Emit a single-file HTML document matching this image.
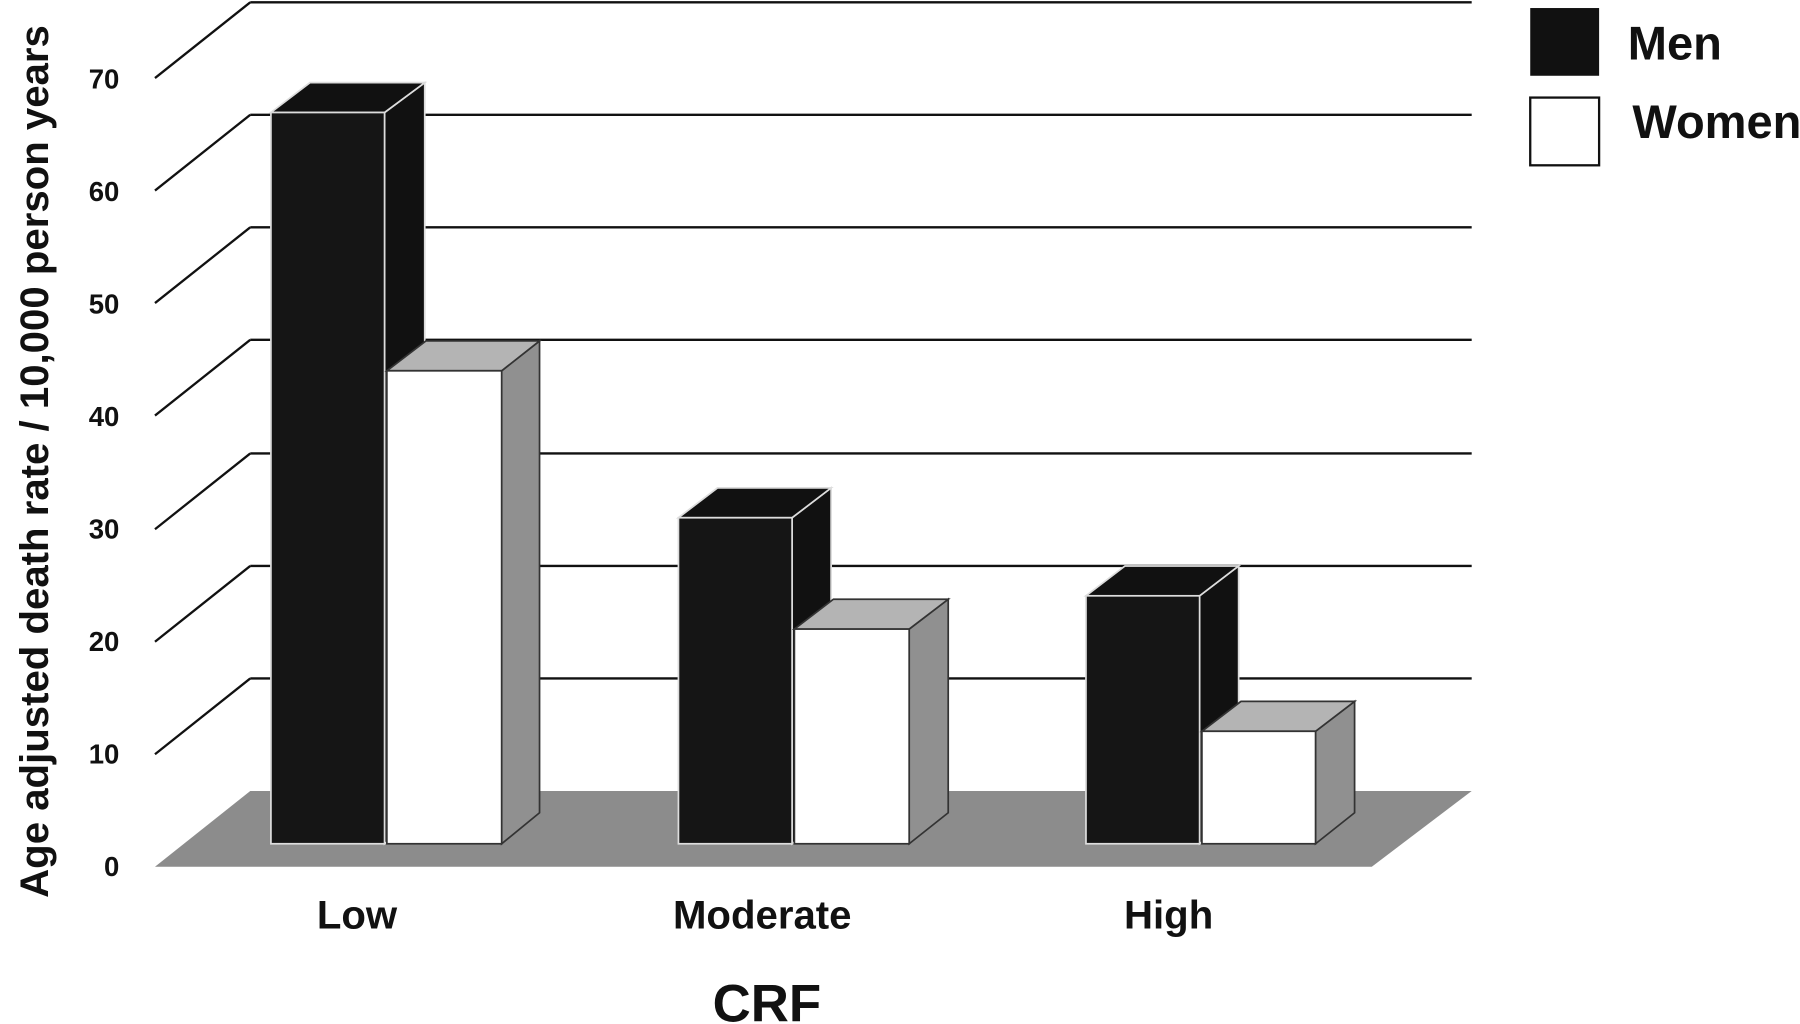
<!DOCTYPE html>
<html><head><style>html,body{margin:0;padding:0;background:#fff}svg{display:block}</style></head><body>
<svg width="1800" height="1024" viewBox="0 0 1568 892" preserveAspectRatio="none" xmlns="http://www.w3.org/2000/svg" font-family="Liberation Sans, sans-serif" font-weight="bold">
<rect width="1568" height="892" fill="#fff"/>
<polygon points="135,755 218,689 1282,689 1195,755" fill="#8c8c8c"/>
<g stroke="#111" stroke-width="2" fill="none">
<line x1="218" y1="2" x2="1282" y2="2"/><line x1="135" y1="68" x2="218" y2="2"/>
<line x1="218" y1="100" x2="1282" y2="100"/><line x1="135" y1="166" x2="218" y2="100"/>
<line x1="218" y1="198" x2="1282" y2="198"/><line x1="135" y1="264" x2="218" y2="198"/>
<line x1="218" y1="296" x2="1282" y2="296"/><line x1="135" y1="362" x2="218" y2="296"/>
<line x1="218" y1="395" x2="1282" y2="395"/><line x1="135" y1="461" x2="218" y2="395"/>
<line x1="218" y1="493" x2="1282" y2="493"/><line x1="135" y1="559" x2="218" y2="493"/>
<line x1="218" y1="591" x2="1282" y2="591"/><line x1="135" y1="657" x2="218" y2="591"/>
</g>
<g stroke="#ddd" stroke-width="1.5">
<polygon points="335,98 370,72 370,708 335,735" fill="#111"/>
<polygon points="236,98 270,72 370,72 335,98" fill="#111"/>
<rect x="236" y="98" width="99" height="637" fill="#151515"/>
</g>
<g stroke="#333" stroke-width="1.5">
<polygon points="437,323 470,297 470,708 437,735" fill="#909090"/>
<polygon points="337,323 371,297 470,297 437,323" fill="#b4b4b4"/>
<rect x="337" y="323" width="100" height="412" fill="#fff"/>
</g>
<g stroke="#ddd" stroke-width="1.5">
<polygon points="690,451 724,425 724,708 690,735" fill="#111"/>
<polygon points="591,451 625,425 724,425 690,451" fill="#111"/>
<rect x="591" y="451" width="99" height="284" fill="#151515"/>
</g>
<g stroke="#333" stroke-width="1.5">
<polygon points="792,548 826,522 826,708 792,735" fill="#909090"/>
<polygon points="692,548 726,522 826,522 792,548" fill="#b4b4b4"/>
<rect x="692" y="548" width="100" height="187" fill="#fff"/>
</g>
<g stroke="#ddd" stroke-width="1.5">
<polygon points="1045,519 1079,493 1079,708 1045,735" fill="#111"/>
<polygon points="946,519 980,493 1079,493 1045,519" fill="#111"/>
<rect x="946" y="519" width="99" height="216" fill="#151515"/>
</g>
<g stroke="#333" stroke-width="1.5">
<polygon points="1146,637 1180,611 1180,708 1146,735" fill="#909090"/>
<polygon points="1047,637 1081,611 1180,611 1146,637" fill="#b4b4b4"/>
<rect x="1047" y="637" width="99" height="98" fill="#fff"/>
</g>
<g font-size="24" text-anchor="end" fill="#111">
<text x="104" y="77">70</text><text x="104" y="175">60</text><text x="104" y="273">50</text>
<text x="104" y="371">40</text><text x="104" y="469">30</text><text x="104" y="567">20</text>
<text x="104" y="665">10</text><text x="104" y="763">0</text>
</g>
<text transform="translate(42,402) rotate(-90)" text-anchor="middle" font-size="35" fill="#111">Age adjusted death rate / 10,000 person years</text>
<g font-size="35" text-anchor="middle" fill="#111">
<text x="311" y="809">Low</text><text x="664" y="809">Moderate</text><text x="1018" y="809">High</text>
</g>
<text x="668" y="890" font-size="46" text-anchor="middle" fill="#111">CRF</text>
<rect x="1333" y="7" width="60" height="59" fill="#111"/>
<rect x="1333" y="85" width="60" height="59" fill="#fff" stroke="#111" stroke-width="2"/>
<text x="1418" y="52" font-size="41" fill="#111">Men</text>
<text x="1422" y="120" font-size="41" fill="#111">Women</text>
</svg>
</body></html>
